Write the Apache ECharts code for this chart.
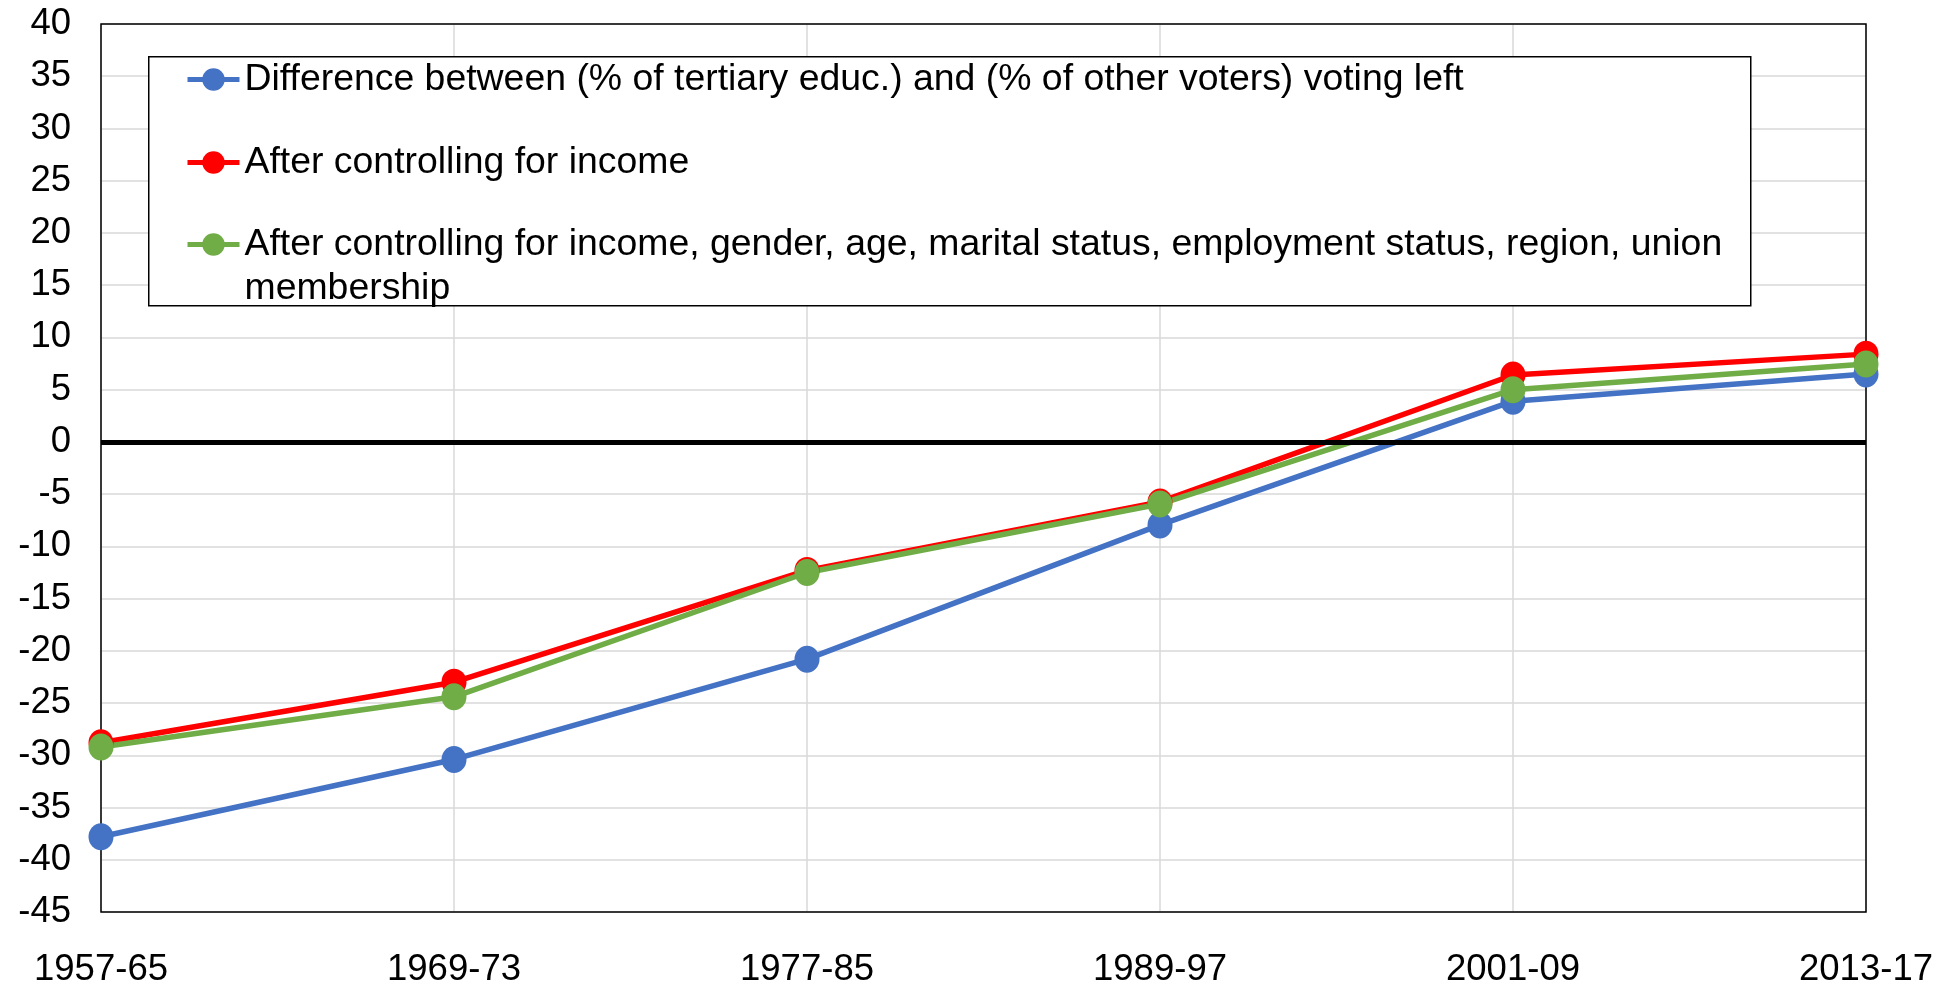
<!DOCTYPE html>
<html>
<head>
<meta charset="utf-8">
<script src="https://cdn.jsdelivr.net/npm/echarts@6/dist/echarts.min.js"></script>
<style>
html,body{margin:0;padding:0;background:#fff;}
#chart{width:1957px;height:986px;}
</style>
</head>
<body>
<div id="chart"></div>
<script>
const categories = ['1957-65', '1969-73', '1977-85', '1989-97', '2001-09', '2013-17'];
const seriesNames = [
  'Difference between (% of tertiary educ.) and (% of other voters) voting left',
  'After controlling for income',
  'After controlling for income, gender, age, marital status, employment status, region, union membership'
];
const diffRaw = [-37.8, -30.4, -20.8, -7.95, 3.9, 6.5];
const ctrlIncome = [-28.8, -23.0, -12.3, -5.75, 6.4, 8.4];
const ctrlAll = [-29.2, -24.4, -12.5, -5.95, 5.0, 7.45];
const yTicks = { min: -45, max: 40, interval: 5 };

const FONT = '"Liberation Sans", Arial, sans-serif';
const FS_AXIS = 36.5;
const FS_LEG = 37.4;
const colors = ['#4472C4', '#FF0000', '#70AD47'];

function mkSeries(name, data, color, extra) {
  return Object.assign({
    name: name,
    type: 'line',
    data: data,
    symbol: 'circle',
    symbolSize: [25, 27],
    lineStyle: { color: color, width: 5.5 },
    itemStyle: { color: color },
    emphasis: { disabled: true },
    animation: false
  }, extra || {});
}

function mkLegend(name, top, fmt) {
  return {
    data: [name],
    orient: 'vertical',
    left: 185,
    top: top,
    padding: 0,
    itemWidth: 52,
    itemHeight: 28,
    selectedMode: false,
    formatter: fmt,
    lineStyle: { width: 5 },
    textStyle: { fontFamily: FONT, fontSize: FS_LEG, color: '#000', lineHeight: 44 }
  };
}

const chart = echarts.init(document.getElementById('chart'));
chart.setOption({
  animation: false,
  backgroundColor: '#fff',
  grid: { left: 101, right: 91, top: 24, bottom: 74, outerBoundsMode: 'none', containLabel: false, show: true, z: 1, borderColor: '#000', borderWidth: 1.5, backgroundColor: 'transparent' },
  graphic: [{
    type: 'rect', left: 148, top: 56, z: 3,
    shape: { width: 1602, height: 249 },
    style: { fill: '#fff', stroke: '#000', lineWidth: 1.5 }
  }],
  legend: [
    mkLegend(seriesNames[0], 57.5),
    mkLegend(seriesNames[1], 140.5),
    mkLegend(seriesNames[2], 178.5, function () {
      return '\nAfter controlling for income, gender, age, marital status, employment status, region, union\nmembership';
    })
  ],
  xAxis: {
    type: 'category',
    data: categories,
    boundaryGap: false,
    axisLine: { show: false },
    axisTick: { show: false },
    axisLabel: { fontFamily: FONT, fontSize: FS_AXIS, color: '#000', margin: 39 },
    splitLine: { show: true, lineStyle: { color: '#d9d9d9', width: 1.5 } }
  },
  yAxis: {
    type: 'value',
    min: yTicks.min, max: yTicks.max, interval: yTicks.interval,
    axisLine: { show: false },
    axisTick: { show: false },
    axisLabel: { fontFamily: FONT, fontSize: FS_AXIS, color: '#000', margin: 30, padding: [5, 0, 0, 0] },
    splitLine: { show: true, lineStyle: { color: '#d9d9d9', width: 1.5 } }
  },
  series: [
    mkSeries(seriesNames[0], diffRaw, colors[0], {
      markLine: {
        silent: true, symbol: 'none', label: { show: false },
        lineStyle: { color: '#000', width: 5, type: 'solid' },
        data: [{ yAxis: 0 }],
        animation: false
      }
    }),
    mkSeries(seriesNames[1], ctrlIncome, colors[1]),
    mkSeries(seriesNames[2], ctrlAll, colors[2])
  ]
});
</script>
</body>
</html>
